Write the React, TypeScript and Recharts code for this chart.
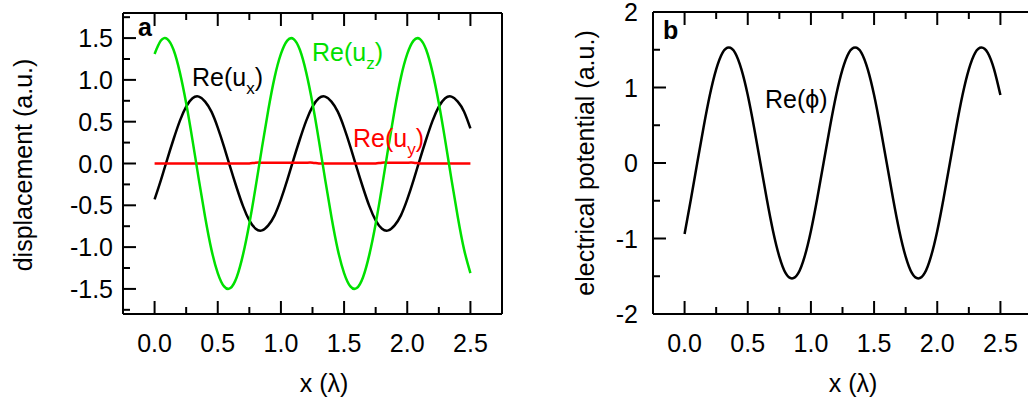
import { LineChart, Line, XAxis, YAxis } from "recharts";

// ─── Data ─────────────────────────────────────────────────────────────────────
const xs = [
  0, 0.05, 0.1, 0.15, 0.2, 0.25, 0.3, 0.35, 0.4, 0.45,
  0.5, 0.55, 0.6, 0.65, 0.7, 0.75, 0.8, 0.85, 0.9, 0.95,
  1, 1.05, 1.1, 1.15, 1.2, 1.25, 1.3, 1.35, 1.4, 1.45,
  1.5, 1.55, 1.6, 1.65, 1.7, 1.75, 1.8, 1.85, 1.9, 1.95,
  2, 2.05, 2.1, 2.15, 2.2, 2.25, 2.3, 2.35, 2.4, 2.45,
  2.5,
];

const uxValues = [
  -0.43, -0.2, 0.05, 0.29, 0.51, 0.68, 0.78, 0.8, 0.74, 0.62,
  0.43, 0.2, -0.05, -0.29, -0.51, -0.68, -0.78, -0.8, -0.74, -0.62,
  -0.43, -0.2, 0.05, 0.29, 0.51, 0.68, 0.78, 0.8, 0.74, 0.62,
  0.43, 0.2, -0.05, -0.29, -0.51, -0.68, -0.78, -0.8, -0.74, -0.62,
  -0.43, -0.2, 0.05, 0.29, 0.51, 0.68, 0.78, 0.8, 0.74, 0.62,
  0.42,
];

const uyValues = [
  0, 0, 0, 0, 0, 0, 0, 0, 0, 0,
  0, 0, 0, 0, 0, 0, 0.01, 0.01, 0.01, 0.01,
  0.01, 0.01, 0.01, 0.01, 0.01, 0.01, 0, 0, 0, 0,
  0, 0, 0, 0, 0, 0, 0.01, 0.01, 0.01, 0.01,
  0.01, 0.01, 0, 0, 0, 0, 0, 0, 0, 0,
  0,
];

const uzValues = [
  1.31, 1.47, 1.49, 1.36, 1.09, 0.72, 0.28, -0.19, -0.64, -1.03,
  -1.31, -1.47, -1.49, -1.36, -1.09, -0.72, -0.28, 0.19, 0.64, 1.03,
  1.31, 1.47, 1.49, 1.36, 1.09, 0.72, 0.28, -0.19, -0.64, -1.03,
  -1.31, -1.47, -1.49, -1.36, -1.09, -0.72, -0.28, 0.19, 0.64, 1.03,
  1.31, 1.47, 1.49, 1.36, 1.09, 0.72, 0.28, -0.19, -0.64, -1.03,
  -1.31,
];

const phiValues = [
  -0.94, -0.48, 0, 0.47, 0.9, 1.24, 1.46, 1.53, 1.46, 1.24,
  0.9, 0.47, 0, -0.47, -0.9, -1.24, -1.46, -1.53, -1.46, -1.24,
  -0.9, -0.47, 0, 0.47, 0.9, 1.24, 1.46, 1.53, 1.46, 1.24,
  0.9, 0.47, 0, -0.47, -0.9, -1.24, -1.46, -1.53, -1.46, -1.24,
  -0.9, -0.47, 0, 0.47, 0.9, 1.24, 1.46, 1.53, 1.46, 1.24,
  0.9,
];

// ─── Ticks ────────────────────────────────────────────────────────────────────
const xTicks = [0, 0.25, 0.5, 0.75, 1, 1.25, 1.5, 1.75, 2, 2.25, 2.5];
const aYTicks = [-1.75, -1.5, -1.25, -1, -0.75, -0.5, -0.25, 0, 0.25, 0.5, 0.75, 1, 1.25, 1.5, 1.75];
const bYTicks = [-2, -1.5, -1, -0.5, 0, 0.5, 1, 1.5, 2];

const panelAData = xs.map((x, i) => ({ x, ux: uxValues[i], uy: uyValues[i], uz: uzValues[i] }));
const panelBData = xs.map((x, i) => ({ x, phi: phiValues[i] }));

// ─── Styling ──────────────────────────────────────────────────────────────────
const FONT = '"Liberation Sans", Arial, Helvetica, sans-serif';
const GREEN = "#00e000";
const RED = "#ff0000";
const FS = 25;
const MAJOR = 13;
const MINOR = 7;

type Box = { left: number; right: number; top: number; bottom: number };
const boxA: Box = { left: 123, right: 502, top: 13, bottom: 314 };
const boxB: Box = { left: 133, right: 512, top: 12, bottom: 314 };

const isHalf = (v: number) => Math.abs(v * 2 - Math.round(v * 2)) < 1e-6;
const isInt = (v: number) => Math.abs(v - Math.round(v)) < 1e-6;

const frame = { stroke: "#000", strokeWidth: 2 };

function bottomTick(box: Box) {
  return (p: any) => {
    const v = p.payload.value;
    const major = isHalf(v);
    return (
      <g>
        <line x1={p.x} x2={p.x} y1={box.bottom} y2={box.bottom - (major ? MAJOR : MINOR)} {...frame} />
        {major && (
          <text x={p.x} y={box.bottom + 29} textAnchor="middle" dominantBaseline="central"
            fontSize={FS} fontFamily={FONT} fill="#000">
            {v.toFixed(1)}
          </text>
        )}
      </g>
    );
  };
}

function topTick(box: Box) {
  return (p: any) => {
    const major = isHalf(p.payload.value);
    return <line x1={p.x} x2={p.x} y1={box.top} y2={box.top + (major ? MAJOR : MINOR)} {...frame} />;
  };
}

function leftTick(box: Box, isMajor: (v: number) => boolean, fmt: (v: number) => string, gap: number) {
  return (p: any) => {
    const v = p.payload.value;
    const major = isMajor(v);
    return (
      <g>
        <line x1={box.left} x2={box.left + (major ? MAJOR : MINOR)} y1={p.y} y2={p.y} {...frame} />
        {major && (
          <text x={box.left - gap} y={p.y} textAnchor="end" dominantBaseline="central"
            fontSize={FS} fontFamily={FONT} fill="#000">
            {fmt(v)}
          </text>
        )}
      </g>
    );
  };
}

function rightTick(box: Box, isMajor: (v: number) => boolean) {
  return (p: any) => {
    const major = isMajor(p.payload.value);
    return <line x1={box.right} x2={box.right - (major ? MAJOR : MINOR)} y1={p.y} y2={p.y} {...frame} />;
  };
}

const txt = { fontFamily: FONT, fontSize: FS };

// ─── Panel annotations ────────────────────────────────────────────────────────
const annotationsA = () => (
  <g>
    <text x={138} y={36} {...txt} fontWeight="bold" fill="#000">a</text>
    <text x={192} y={86} {...txt} fill="#000">
      Re(u<tspan fontSize={17} dy={8}>x</tspan><tspan dy={-8}>)</tspan>
    </text>
    <text x={312} y={61} {...txt} fill={GREEN}>
      Re(u<tspan fontSize={17} dy={8}>z</tspan><tspan dy={-8}>)</tspan>
    </text>
    <text x={353} y={147} {...txt} fill={RED}>
      Re(u<tspan fontSize={17} dy={8}>y</tspan><tspan dy={-8}>)</tspan>
    </text>
    <text x={324} y={383} {...txt} textAnchor="middle" dominantBaseline="central" fill="#000">x (λ)</text>
    <text x={23} y={165} {...txt} textAnchor="middle" dominantBaseline="central" fill="#000"
      transform="rotate(-90 23 165)">displacement (a.u.)</text>
  </g>
);

const annotationsB = () => (
  <g>
    <text x={143} y={39} {...txt} fontWeight="bold" fill="#000">b</text>
    <text x={245} y={108} {...txt} fill="#000">Re(ϕ)</text>
    <text x={333} y={383} {...txt} textAnchor="middle" dominantBaseline="central" fill="#000">x (λ)</text>
    <text x={65} y={163} {...txt} textAnchor="middle" dominantBaseline="central" fill="#000"
      transform="rotate(-90 65 163)">electrical potential (a.u.)</text>
  </g>
);

// ─── Component ────────────────────────────────────────────────────────────────
export default function App() {
  return (
    <div style={{ position: "absolute", left: 0, top: 0, width: 1028, height: 405, overflow: "hidden", background: "#fff" }}>
      {/* ── Panel a ── */}
      <div style={{ position: "absolute", left: 0, top: 0 }}>
        <LineChart width={520} height={405} data={panelAData} margin={{ top: 12, right: 17, bottom: 0, left: 0 }}>
          <XAxis xAxisId="b" dataKey="x" type="number" domain={[-0.25, 2.75]} ticks={xTicks} interval={0}
            height={91} tickSize={0} tickMargin={0} tickLine={false} axisLine={frame} tick={bottomTick(boxA)} />
          <XAxis xAxisId="t" orientation="top" dataKey="x" type="number" domain={[-0.25, 2.75]} ticks={xTicks}
            interval={0} height={1} tickSize={0} tickMargin={0} tickLine={false} axisLine={frame}
            tick={topTick(boxA)} label={annotationsA} />
          <YAxis yAxisId="l" type="number" domain={[-1.8, 1.8]} ticks={aYTicks} interval={0} width={123}
            tickSize={0} tickMargin={0} tickLine={false} axisLine={frame}
            tick={leftTick(boxA, isHalf, (v) => v.toFixed(1), 10)} />
          <YAxis yAxisId="r" orientation="right" type="number" domain={[-1.8, 1.8]} ticks={aYTicks} interval={0}
            width={1} tickSize={0} tickMargin={0} tickLine={false} axisLine={frame} tick={rightTick(boxA, isHalf)} />
          <Line xAxisId="b" yAxisId="l" type="natural" dataKey="ux" stroke="#000" strokeWidth={2.5} dot={false} isAnimationActive={false} />
          <Line xAxisId="b" yAxisId="l" type="natural" dataKey="uy" stroke={RED} strokeWidth={2.5} dot={false} isAnimationActive={false} />
          <Line xAxisId="b" yAxisId="l" type="natural" dataKey="uz" stroke={GREEN} strokeWidth={2.5} dot={false} isAnimationActive={false} />
        </LineChart>
      </div>

      {/* ── Panel b ── */}
      <div style={{ position: "absolute", left: 520, top: 0 }}>
        <LineChart width={520} height={405} data={panelBData} margin={{ top: 11, right: 7, bottom: 0, left: 0 }}>
          <XAxis xAxisId="b" dataKey="x" type="number" domain={[-0.25, 2.75]} ticks={xTicks} interval={0}
            height={91} tickSize={0} tickMargin={0} tickLine={false} axisLine={frame} tick={bottomTick(boxB)} />
          <XAxis xAxisId="t" orientation="top" dataKey="x" type="number" domain={[-0.25, 2.75]} ticks={xTicks}
            interval={0} height={1} tickSize={0} tickMargin={0} tickLine={false} axisLine={frame}
            tick={topTick(boxB)} label={annotationsB} />
          <YAxis yAxisId="l" type="number" domain={[-2, 2]} ticks={bYTicks} interval={0} width={133}
            tickSize={0} tickMargin={0} tickLine={false} axisLine={frame}
            tick={leftTick(boxB, isInt, (v) => String(v), 15)} />
          <YAxis yAxisId="r" orientation="right" type="number" domain={[-2, 2]} ticks={bYTicks} interval={0}
            width={1} tickSize={0} tickMargin={0} tickLine={false} axisLine={frame} tick={rightTick(boxB, isInt)} />
          <Line xAxisId="b" yAxisId="l" type="natural" dataKey="phi" stroke="#000" strokeWidth={2.5} dot={false} isAnimationActive={false} />
        </LineChart>
      </div>
    </div>
  );
}
